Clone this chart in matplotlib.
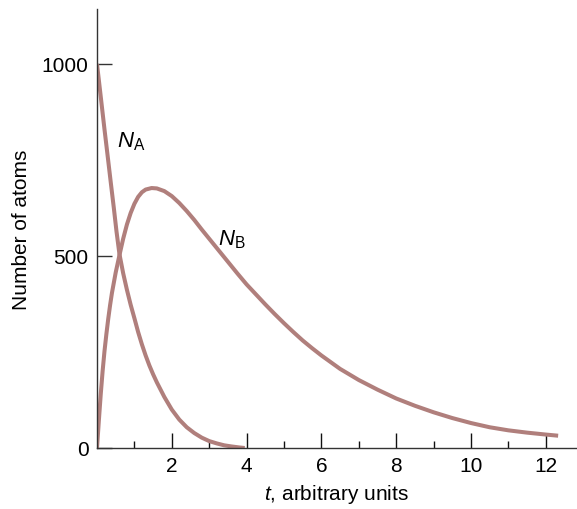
import matplotlib
matplotlib.use("Agg")
import matplotlib.pyplot as plt
from matplotlib.ticker import FixedLocator

plt.rcParams['font.family'] = ['Liberation Sans', 'DejaVu Sans']
plt.rcParams['mathtext.fontset'] = 'custom'
plt.rcParams['mathtext.rm'] = 'Liberation Sans'
plt.rcParams['mathtext.it'] = 'Liberation Sans:italic'

# Data
t_a = [0, 0.1, 0.2, 0.3, 0.37, 0.45, 0.52, 0.6, 0.7, 0.8, 0.9, 1.0, 1.1, 1.2, 1.3,
       1.4, 1.5, 1.6, 1.8, 2.0, 2.2, 2.4, 2.6, 2.8, 3.0, 3.2, 3.4, 3.6, 3.8, 3.95]
n_a = [1000, 915, 830, 748, 690, 625, 565, 505, 455, 412, 373, 338, 302, 270, 241,
       215, 192, 171, 133, 100, 74, 54, 39, 27, 18, 12, 7, 4, 1.5, 0]

t_b = [0, 0.05, 0.1, 0.15, 0.2, 0.25, 0.3, 0.35, 0.4, 0.5, 0.6, 0.7, 0.8, 0.9, 1.0,
       1.1, 1.2, 1.3, 1.46, 1.6, 1.8, 2.0, 2.2, 2.4, 2.6, 2.8, 3.0, 3.25, 3.5, 3.75,
       4.0, 4.25, 4.5, 4.75, 5.0, 5.25, 5.5, 5.75, 6.0, 6.5, 7.0, 7.5, 8.0, 8.5, 9.0,
       9.5, 10.0, 10.5, 11.0, 11.5, 12.0, 12.33]
n_b = [0, 72, 140, 200, 252, 296, 336, 372, 404, 457, 502, 545, 582, 612, 636,
       654, 666, 673, 677, 676, 669, 656, 638, 617, 594, 569, 545, 515, 485, 455,
       426, 400, 374, 349, 325, 302, 280, 260, 241, 206, 177, 152, 129, 110, 93,
       78, 65, 54, 46, 40, 35, 32]

x_major = [2, 4, 6, 8, 10, 12]
x_minor = [1, 3, 5, 7, 9, 11]
y_major = [0, 500, 1000]

label_a = r'$N_{\mathrm{A}}$'
label_b = r'$N_{\mathrm{B}}$'

color = '#b07f7c'

fig = plt.figure(figsize=(5.77, 5.10), dpi=100)
ax = fig.add_axes([97/577, 61/510, 1 - 97/577, (449 - 10)/510])

ax.plot(t_a, n_a, color=color, lw=2.9, solid_capstyle='butt', solid_joinstyle='round')
ax.plot(t_b, n_b, color=color, lw=2.9, solid_capstyle='butt', solid_joinstyle='round')

ax.set_xlim(0, 480/37.4)
ax.set_ylim(0, 439/0.384)

for s in ['top', 'right']:
    ax.spines[s].set_visible(False)
for s in ['left', 'bottom']:
    ax.spines[s].set_linewidth(1.0)
    ax.spines[s].set_color('#333333')

ax.xaxis.set_major_locator(FixedLocator(x_major))
ax.xaxis.set_minor_locator(FixedLocator(x_minor))
ax.yaxis.set_major_locator(FixedLocator(y_major))
ax.tick_params(axis='x', which='major', direction='in', length=10.8, width=1.0,
               pad=6, labelsize=15, color='#111111')
ax.tick_params(axis='x', which='minor', direction='in', length=5.2, width=1.0, color='#111111')
ax.tick_params(axis='y', which='major', direction='in', length=10.8, width=1.0,
               pad=6, labelsize=15, color='#333333')

ax.set_xlabel(r'$t$, arbitrary units', fontsize=15, labelpad=5)
ax.set_ylabel('Number of atoms', fontsize=15, labelpad=8)

ax.text(0.53, 800, label_a, fontsize=16, ha='left', va='center')
ax.text(3.23, 545, label_b, fontsize=16, ha='left', va='center')

fig.savefig('out.png', dpi=100)
